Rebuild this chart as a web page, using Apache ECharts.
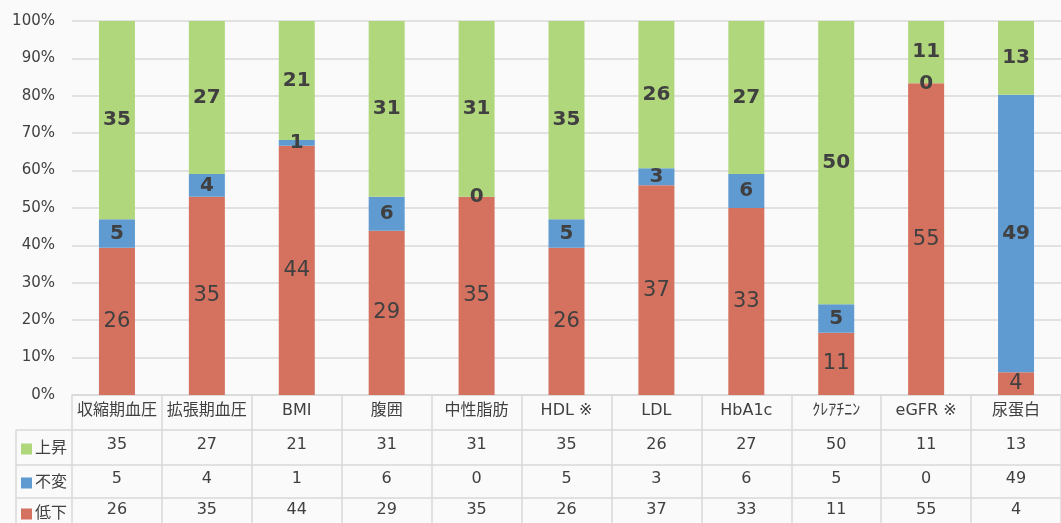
<!DOCTYPE html>
<html>
<head>
<meta charset="utf-8">
<script src="https://cdn.jsdelivr.net/npm/echarts@6/dist/echarts.min.js"></script>
<style>
  html, body { margin: 0; padding: 0; background: #fafafa; }
  #chart { width: 1061px; height: 523px; }
</style>
</head>
<body>
<div id="chart"></div>
<script>
var categories = ["収縮期血圧", "拡張期血圧", "BMI", "腹囲", "中性脂肪", "HDL ※", "LDL", "HbA1c", "ｸﾚｱﾁﾆﾝ", "eGFR ※", "尿蛋白"];
var up = [35, 27, 21, 31, 31, 35, 26, 27, 50, 11, 13];
var same = [5, 4, 1, 6, 0, 5, 3, 6, 5, 0, 49];
var down = [26, 35, 44, 29, 35, 26, 37, 33, 11, 55, 4];

var GREEN = "#b1d77d", BLUE = "#5f9bd0", RED = "#d4715f";
var TEXT = "#404040", LINE = "#d9d9d9";
var FONT = "'DejaVu Sans', 'Noto Sans CJK JP', sans-serif";

function pct(arr) {
  return arr.map(function (v, i) {
    var total = up[i] + same[i] + down[i];
    return { value: v / total * 100, raw: v };
  });
}

var chart = echarts.init(document.getElementById("chart"));

function rowAxis(data, offset) {
  return {
    type: "category",
    gridIndex: 0,
    position: "bottom",
    offset: offset,
    data: data.map(String),
    axisLine: { show: false },
    axisTick: { show: false },
    axisLabel: { color: TEXT, fontSize: 16, fontFamily: FONT, margin: 7, interval: 0 }
  };
}

function legendAt(name, top) {
  return {
    orient: "vertical",
    left: 16,
    top: top,
    itemWidth: 11,
    itemHeight: 11,
    icon: "rect",
    selectedMode: false,
    data: [name],
    textStyle: { color: TEXT, fontSize: 16, fontFamily: FONT, padding: [0, 0, 0, -2] }
  };
}

function labelFmt(p) { return p.data.raw; }

var option = {
  backgroundColor: "#fafafa",
  animation: false,
  textStyle: { fontFamily: FONT },
  grid: { left: 72, right: -9, top: 21, bottom: 128, containLabel: false },
  legend: [legendAt("上昇", 436), legendAt("不変", 470), legendAt("低下", 501)],
  xAxis: [
    {
      type: "category",
      data: categories,
      axisLine: { lineStyle: { color: LINE, width: 1.5 } },
      axisTick: { show: true, length: 128, lineStyle: { color: LINE, width: 1.5 } },
      axisLabel: { color: TEXT, fontSize: 16, fontFamily: FONT, margin: 8, interval: 0 }
    },
    rowAxis(up, 35),
    rowAxis(same, 69),
    rowAxis(down, 100)
  ],
  yAxis: {
    type: "value",
    min: 0,
    max: 100,
    interval: 10,
    axisLine: { show: false },
    axisTick: { show: false },
    splitLine: { lineStyle: { color: LINE, width: 1.5 } },
    axisLabel: { color: TEXT, fontSize: 15, fontFamily: FONT, margin: 17, formatter: "{value}%" }
  },
  series: [
    {
      name: "低下", type: "bar", stack: "all", barWidth: 36,
      itemStyle: { color: RED },
      label: { show: true, position: "inside", formatter: labelFmt, color: TEXT, fontSize: 21, fontFamily: FONT },
      data: pct(down)
    },
    {
      name: "不変", type: "bar", stack: "all", barWidth: 36,
      itemStyle: { color: BLUE },
      label: { show: true, position: "inside", formatter: labelFmt, color: TEXT, fontSize: 20, fontWeight: "bold", fontFamily: FONT },
      data: pct(same)
    },
    {
      name: "上昇", type: "bar", stack: "all", barWidth: 36,
      itemStyle: { color: GREEN },
      label: { show: true, position: "inside", formatter: labelFmt, color: TEXT, fontSize: 20, fontWeight: "bold", fontFamily: FONT },
      data: pct(up)
    }
  ],
  graphic: [
    { type: "line", shape: { x1: 16, y1: 430, x2: 1061, y2: 430 }, style: { stroke: LINE, lineWidth: 1.5 } },
    { type: "line", shape: { x1: 16, y1: 465, x2: 1061, y2: 465 }, style: { stroke: LINE, lineWidth: 1.5 } },
    { type: "line", shape: { x1: 16, y1: 498, x2: 1061, y2: 498 }, style: { stroke: LINE, lineWidth: 1.5 } },
    { type: "line", shape: { x1: 16, y1: 430, x2: 16, y2: 523 }, style: { stroke: LINE, lineWidth: 1.5 } }
  ]
};

chart.setOption(option);
</script>
</body>
</html>
